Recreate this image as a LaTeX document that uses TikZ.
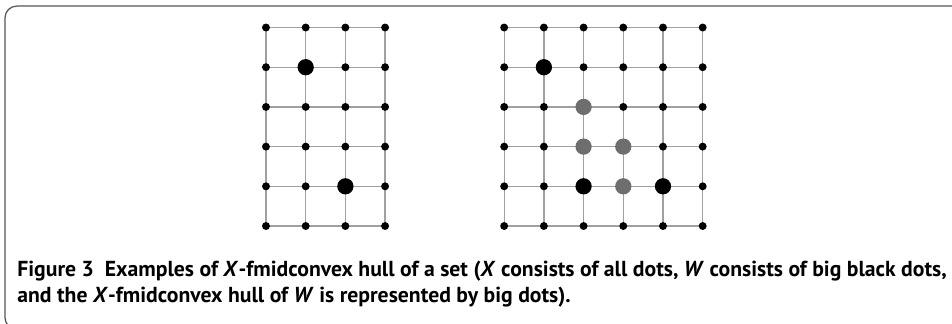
\documentclass[tikz,border=0pt]{standalone}
\usepackage{fontspec}
\setmainfont{PT Sans}
\definecolor{gridgray}{HTML}{A0A0A0}
\definecolor{hullgray}{HTML}{6E6E6E}
\definecolor{framegray}{HTML}{555555}
\begin{document}
\begin{tikzpicture}[font=\bfseries,
  gridline/.style={draw=gridgray, line width=0.95pt},
  dot/.style={circle, fill=black, inner sep=0pt, minimum size=2mm},
  bigdot/.style={dot, minimum size=4.1mm},
  hulldot/.style={bigdot, fill=hullgray}]
  \useasboundingbox (-6.70,-2.443) rectangle (17.28,5.693);
  % frame
  \draw[framegray, line width=0.9pt, rounded corners=8.5pt] (17.6,-2.6) -- (-6.575,-2.6) -- (-6.575,5.54) -- (17.6,5.54);
  % left lattice
  \foreach \i in {0,...,3} \foreach \j in {0,...,5} \coordinate (L-\i-\j) at (\i,\j);
  \foreach \j in {0,...,5} \draw[gridline] (L-0-\j) -- (L-3-\j);
  \foreach \i in {0,...,3} \draw[gridline] (L-\i-0) -- (L-\i-5);
  \foreach \i in {0,...,3} \foreach \j in {0,...,5} \node[dot] (l-\i-\j) at (L-\i-\j) {};
  \node[bigdot] (lw1) at (L-1-4) {};
  \node[bigdot] (lw2) at (L-2-1) {};
  % right lattice
  \foreach \i in {6,...,11} \foreach \j in {0,...,5} \coordinate (R-\i-\j) at (\i,\j);
  \foreach \j in {0,...,5} \draw[gridline] (R-6-\j) -- (R-11-\j);
  \foreach \i in {6,...,11} \draw[gridline] (R-\i-0) -- (R-\i-5);
  \foreach \i in {6,...,11} \foreach \j in {0,...,5} \node[dot] (r-\i-\j) at (R-\i-\j) {};
  \node[hulldot] (rh1) at (R-8-3) {};
  \node[hulldot] (rh2) at (R-8-2) {};
  \node[hulldot] (rh3) at (R-9-2) {};
  \node[hulldot] (rh4) at (R-9-1) {};
  \node[bigdot] (rw1) at (R-7-4) {};
  \node[bigdot] (rw2) at (R-8-1) {};
  \node[bigdot] (rw3) at (R-10-1) {};
  % caption (base = last line)
  \node[anchor=base west, inner sep=0pt, align=left, font=\fontsize{15.55pt}{18pt}\selectfont\bfseries] (cap) at (-6.27,-1.914)
    {Figure 3\ \ Examples of \textit{X}-fmidconvex hull of a set (\textit{X} consists of all dots, \textit{W} consists of big black dots,\\
     and the \textit{X}-fmidconvex hull of \textit{W} is represented by big dots).};
\end{tikzpicture}
\end{document}
